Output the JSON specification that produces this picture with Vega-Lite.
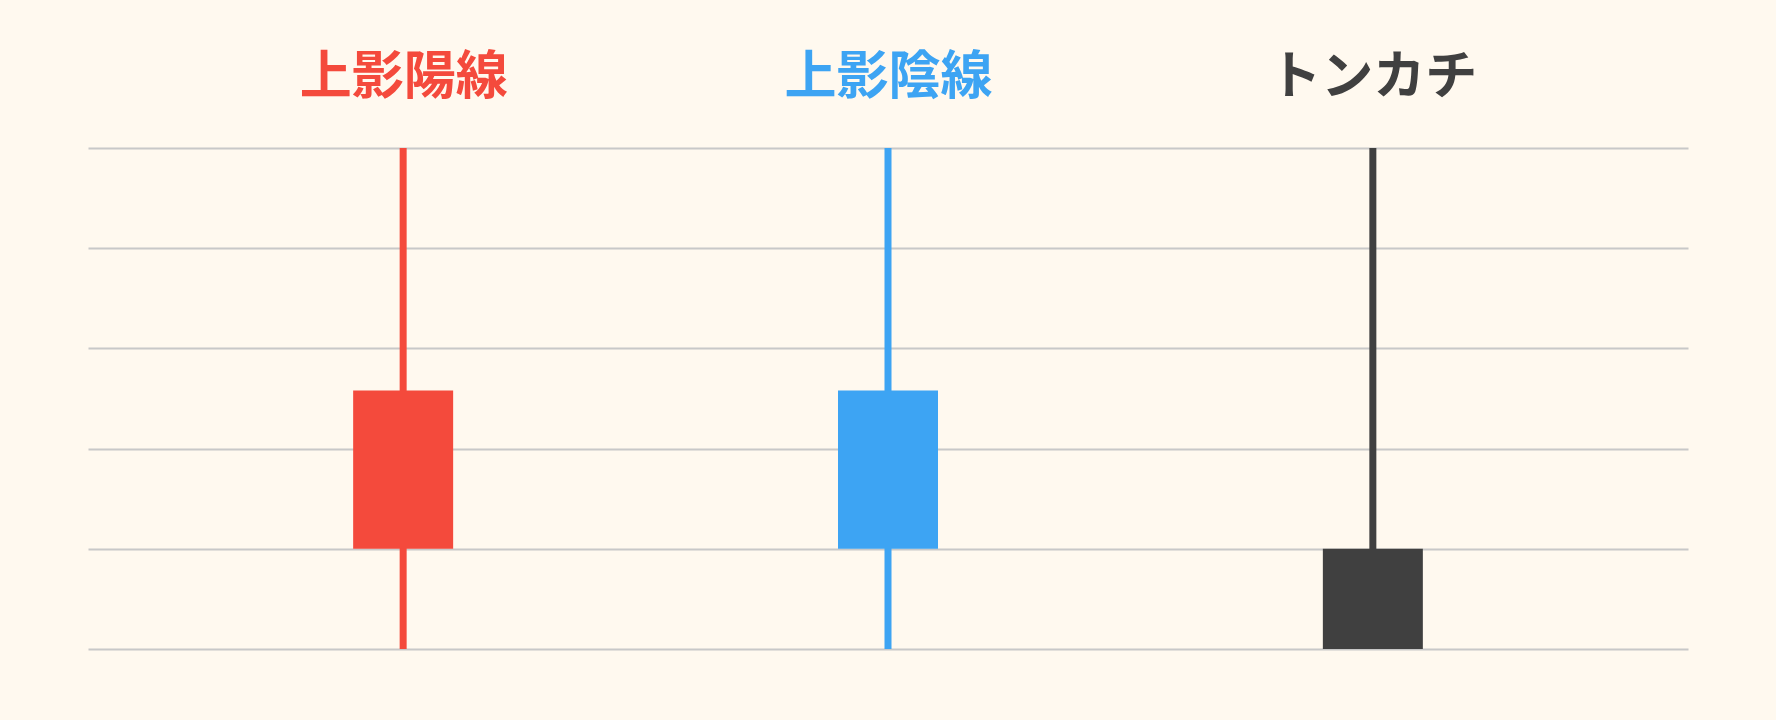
{
  "$schema": "https://vega.github.io/schema/vega-lite/v6.json",
  "autosize": {"type": "none"},
  "width": 1600,
  "height": 501,
  "padding": {"left": 88, "right": 88, "top": 148, "bottom": 71},
  "background": "#FFF9EF",
  "data": {
    "values": [
      {"name": "上影陽線", "open": 1, "close": 2.58, "low": 0, "high": 5},
      {"name": "上影陰線", "open": 2.58, "close": 1, "low": 0, "high": 5},
      {"name": "トンカチ", "open": 0, "close": 1, "low": 0, "high": 5}
    ]
  },
  "encoding": {
    "x": {
      "field": "name",
      "type": "nominal",
      "sort": null,
      "scale": {"type": "point", "padding": 0.65},
      "axis": {
        "orient": "top",
        "title": null,
        "domain": false,
        "ticks": false,
        "grid": false,
        "labelAngle": 0,
        "labelLimit": 0,
        "labelFont": "Noto Sans CJK JP",
        "labelFontWeight": "bold",
        "labelFontSize": 52,
        "labelPadding": 44,
        "labelColor": {"expr": "datum.value == '上影陽線' ? '#F44A3C' : datum.value == '上影陰線' ? '#3DA4F3' : '#404040'"}
      }
    },
    "color": {
      "field": "name",
      "type": "nominal",
      "scale": {
        "domain": ["上影陽線", "上影陰線", "トンカチ"],
        "range": ["#F44A3C", "#3DA4F3", "#404040"]
      },
      "legend": null
    }
  },
  "layer": [
    {
      "mark": {"type": "rule", "strokeWidth": 7},
      "encoding": {
        "y": {
          "field": "low",
          "type": "quantitative",
          "scale": {"domain": [0, 5], "nice": false},
          "axis": {
            "title": null,
            "values": [0, 1, 2, 3, 4, 5],
            "labels": false,
            "ticks": false,
            "domain": false,
            "grid": true,
            "gridColor": "#C8C8C8",
            "gridWidth": 2,
            "gridOpacity": 1
          }
        },
        "y2": {"field": "high"}
      }
    },
    {
      "mark": {"type": "bar", "size": 100, "opacity": 1},
      "encoding": {
        "y": {"field": "open", "type": "quantitative"},
        "y2": {"field": "close"}
      }
    }
  ],
  "config": {
    "view": {"stroke": null}
  }
}
